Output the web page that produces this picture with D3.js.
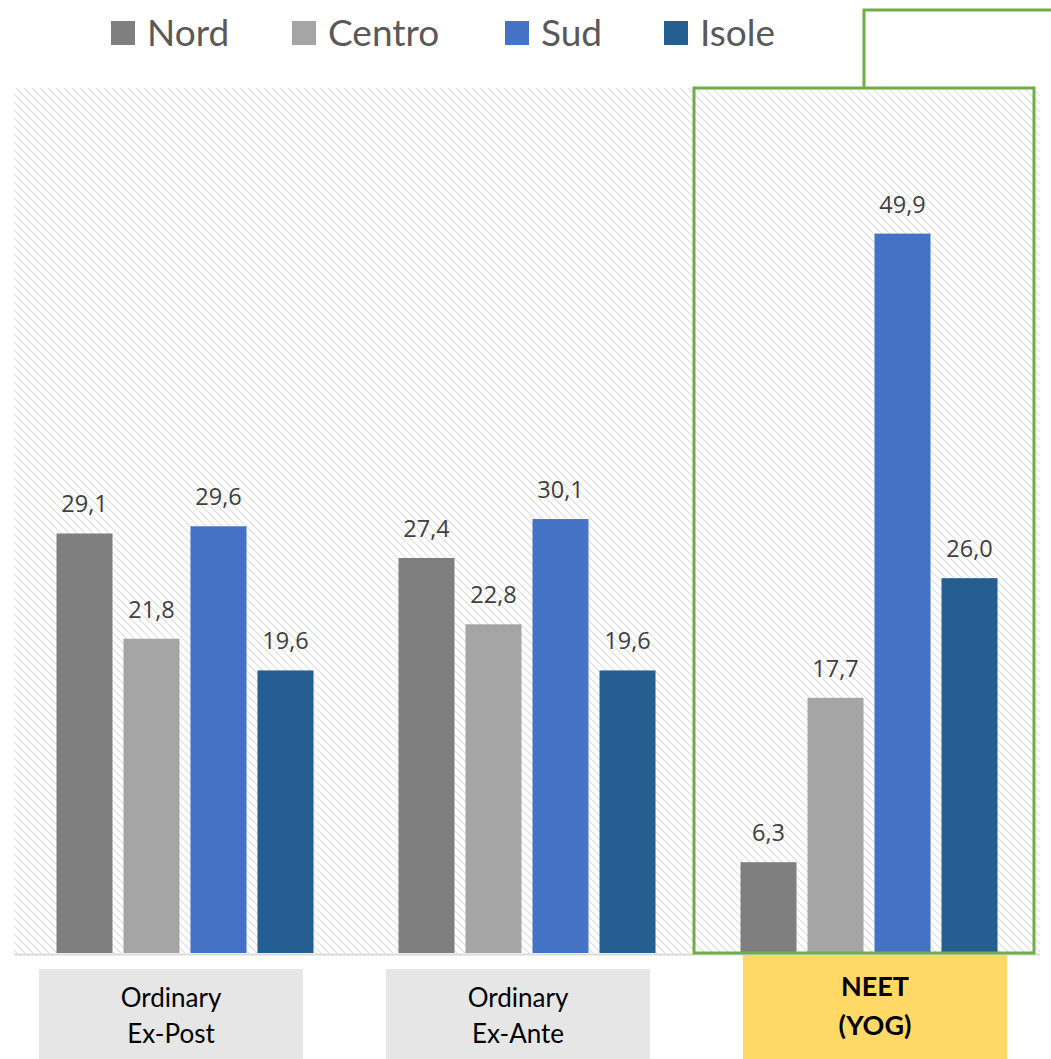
<!DOCTYPE html>
<html>
<head>
<meta charset="utf-8">
<script src="https://cdn.jsdelivr.net/npm/d3@7"></script>
<style>
  html, body { margin: 0; padding: 0; background: #fff; }
  svg { display: block; }
</style>
</head>
<body>
<svg id="chart" width="1051" height="1059"></svg>
<script>
// Groups, regions and the percentage for each region within each group
const categories = ["Ordinary Ex-Post", "Ordinary Ex-Ante", "NEET (YOG)"];
const categoryLines = [["Ordinary", "Ex-Post"], ["Ordinary", "Ex-Ante"], ["NEET", "(YOG)"]];
const seriesNames = ["Nord", "Centro", "Sud", "Isole"];
const nord   = [29.1, 27.4, 6.3];
const centro = [21.8, 22.8, 17.7];
const sud    = [29.6, 30.1, 49.9];
const isole  = [19.6, 19.6, 26.0];
const seriesValues = [nord, centro, sud, isole];
const colors = ["#7f7f7f", "#a5a5a5", "#4472c4", "#255e91"];
const highlighted = "NEET (YOG)";

const svg = d3.select("#chart");
const plot = { left: 14, right: 1040, top: 88, bottom: 953 };

const x0 = d3.scaleBand().domain(categories).range([plot.left, plot.right]);
const x1 = d3.scaleBand().domain(seriesNames).range([0, x0.bandwidth()])
  .paddingInner(0.164).paddingOuter(0.634);
const y = d3.scaleLinear().domain([0, 60]).range([plot.bottom, plot.top]);

// Diagonal hatch for the plot background
const defs = svg.append("defs");
const pat = defs.append("pattern").attr("id", "hatch")
  .attr("patternUnits", "userSpaceOnUse").attr("width", 8).attr("height", 8);
pat.append("path").attr("d", "M-2,-2 L10,10 M-2,6 L2,10 M6,-2 L10,2")
  .attr("stroke", "#dddddd").attr("stroke-width", 1.2);

svg.append("rect")
  .attr("x", plot.left).attr("y", plot.top)
  .attr("width", plot.right - plot.left).attr("height", plot.bottom - plot.top)
  .attr("fill", "url(#hatch)");

// Bars
const rows = categories.map((c, i) => ({
  cat: c,
  items: seriesNames.map((s, j) => ({ s, v: seriesValues[j][i], color: colors[j] }))
}));

const g = svg.selectAll("g.grp").data(rows).join("g")
  .attr("class", "grp")
  .attr("transform", d => `translate(${x0(d.cat)},0)`);

g.selectAll("rect").data(d => d.items).join("rect")
  .attr("x", d => x1(d.s)).attr("width", x1.bandwidth())
  .attr("y", d => y(d.v)).attr("height", d => y(0) - y(d.v))
  .attr("fill", d => d.color);

const fmt = v => d3.format(".1f")(v).replace(".", ",");
g.selectAll("text").data(d => d.items).join("text")
  .attr("x", d => x1(d.s) + x1.bandwidth() / 2)
  .attr("y", d => y(d.v) - 21)
  .attr("text-anchor", "middle")
  .attr("font-family", "'Open Sans', sans-serif")
  .attr("font-size", 23.5)
  .attr("fill", "#404040")
  .text(d => fmt(d.v));

// Baseline
svg.append("line")
  .attr("x1", plot.left).attr("x2", plot.right)
  .attr("y1", y(0) + 1.5).attr("y2", y(0) + 1.5)
  .attr("stroke", "#d9d9d9").attr("stroke-width", 2);

// Highlight frame around the NEET group with its callout connector
const hx = x0(highlighted);
const frame = { left: hx - 4, right: hx + x0.bandwidth() - 6 };
svg.append("rect")
  .attr("x", frame.left).attr("y", plot.top)
  .attr("width", frame.right - frame.left).attr("height", y(0) - plot.top)
  .attr("fill", "none").attr("stroke", "#70ad47").attr("stroke-width", 3);
const connX = hx + x0.bandwidth() / 2 - 5;
svg.append("path")
  .attr("d", `M${connX},${plot.top} V10 H1053`)
  .attr("fill", "none").attr("stroke", "#70ad47").attr("stroke-width", 3);

// Category label boxes under the axis
const boxW = 264;
const boxShift = [-14, -9, 6];
categories.forEach((c, i) => {
  const isHi = c === highlighted;
  const cx = x0(c) + x0.bandwidth() / 2 + boxShift[i];
  const top = isHi ? 955 : 969;
  svg.append("rect")
    .attr("x", cx - boxW / 2).attr("y", top)
    .attr("width", boxW).attr("height", 1059 - top)
    .attr("fill", isHi ? "#ffd966" : "#e7e6e6");
  const t = svg.append("text")
    .attr("text-anchor", "middle")
    .attr("font-family", "Lato, 'Open Sans', sans-serif")
    .attr("font-size", isHi ? 27 : 26)
    .attr("font-weight", isHi ? "bold" : "normal")
    .attr("fill", "#000");
  const baseY = isHi ? 996 : 1007;
  categoryLines[i].forEach((line, k) => {
    t.append("tspan").attr("x", cx).attr("y", baseY + k * (isHi ? 39 : 36)).text(line);
  });
});

// Legend
const legendX = [111, 292, 505, 664];
const lg = svg.selectAll("g.leg").data(seriesNames).join("g")
  .attr("class", "leg")
  .attr("transform", (d, i) => `translate(${legendX[i]},21)`);
lg.append("rect").attr("width", 24).attr("height", 24)
  .attr("fill", (d, i) => colors[i]);
lg.append("text")
  .attr("x", 36).attr("y", 25)
  .attr("font-family", "Lato, 'Open Sans', sans-serif")
  .attr("font-size", 37)
  .attr("fill", "#595959")
  .text(d => d);
</script>
</body>
</html>
